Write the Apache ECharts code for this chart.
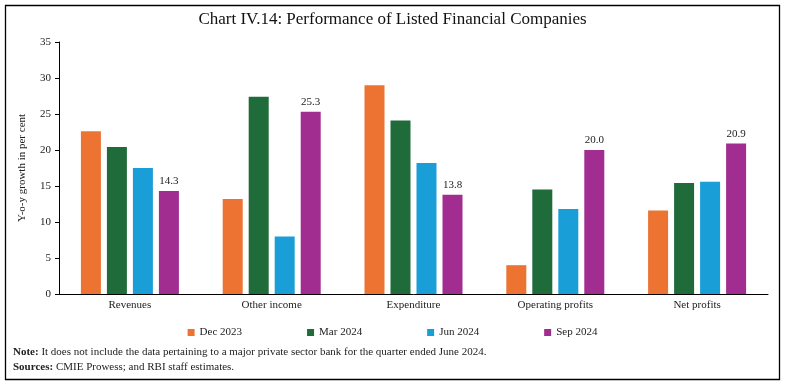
<!DOCTYPE html>
<html><head><meta charset="utf-8">
<script src="https://cdn.jsdelivr.net/npm/echarts@6/dist/echarts.min.js"></script>
<style>html,body{margin:0;padding:0;background:#fff}#c{width:785px;height:385px}</style>
</head><body><div id="c"></div>
<script>
const categories = ["Revenues", "Other income", "Expenditure", "Operating profits", "Net profits"];
const seriesNames = ["Dec 2023", "Mar 2024", "Jun 2024", "Sep 2024"];
const dec2023 = [22.6, 13.2, 29.0, 4.0, 11.6];
const mar2024 = [20.4, 27.4, 24.1, 14.5, 15.4];
const jun2024 = [17.5, 8.0, 18.2, 11.8, 15.6];
const sep2024 = [14.3, 25.3, 13.8, 20.0, 20.9];
const yTicks = [0, 5, 10, 15, 20, 25, 30, 35];
const colors = ["#EC7332", "#1F6B39", "#1A9ED7", "#A02D8F"];
const FONT = "Liberation Serif";

const values = [dec2023, mar2024, jun2024, sep2024];
const chart = echarts.init(document.getElementById('c'), null, {renderer: 'canvas'});
chart.setOption({
  animation: false,
  textStyle: {fontFamily: FONT, color: '#222'},
  title: {
    text: "Chart IV.14: Performance of Listed Financial Companies",
    left: 'center', top: 6,
    textStyle: {fontFamily: FONT, fontSize: 17, fontWeight: 'normal', color: '#111'}
  },
  grid: {left: 59, right: 17, top: 42, bottom: 91},
  legend: {
    bottom: 42, left: 'center',
    itemWidth: 7, itemHeight: 7, itemGap: 65,
    icon: 'rect',
    textStyle: {fontFamily: FONT, fontSize: 11, color: '#222'},
    data: seriesNames
  },
  xAxis: {
    type: 'category', data: categories,
    axisLine: {lineStyle: {color: '#000', width: 1}},
    axisTick: {show: false},
    axisLabel: {fontFamily: FONT, fontSize: 11, color: '#222', margin: 6}
  },
  yAxis: {
    type: 'value', min: yTicks[0], max: yTicks[yTicks.length - 1], interval: 5,
    name: "Y-o-y growth in per cent", nameLocation: 'middle', nameGap: 31,
    nameTextStyle: {fontFamily: FONT, fontSize: 11, color: '#222'},
    axisLine: {show: true, lineStyle: {color: '#000', width: 1}},
    axisTick: {show: true, length: 4, lineStyle: {color: '#000'}},
    splitLine: {show: false},
    axisLabel: {fontFamily: FONT, fontSize: 11, color: '#222', margin: 8}
  },
  series: seriesNames.map((n, i) => ({
    name: n, type: 'bar', data: values[i],
    barWidth: 20, barGap: '30%',
    itemStyle: {color: colors[i]},
    label: i === 3 ? {show: true, position: 'top', distance: 4, fontFamily: FONT, fontSize: 11, color: '#222',
      formatter: p => p.value.toFixed(1)} : {show: false}
  })),
  graphic: [
    {type: 'rect', shape: {x: 5.5, y: 5.5, width: 774, height: 374}, style: {fill: 'none', stroke: '#000', lineWidth: 1.3}, silent: true},
    {type: 'text', left: 13, top: 347, style: {
      text: '{b|Note:} It does not include the data pertaining to a major private sector bank for the quarter ended June 2024.',
      font: '11px "Liberation Serif"', fill: '#222',
      rich: {b: {fontWeight: 'bold', fontFamily: FONT, fontSize: 11, fill: '#222'}}
    }},
    {type: 'text', left: 13, top: 362, style: {
      text: '{b|Sources:} CMIE Prowess; and RBI staff estimates.',
      font: '11px "Liberation Serif"', fill: '#222',
      rich: {b: {fontWeight: 'bold', fontFamily: FONT, fontSize: 11, fill: '#222'}}
    }}
  ]
});
</script></body></html>
